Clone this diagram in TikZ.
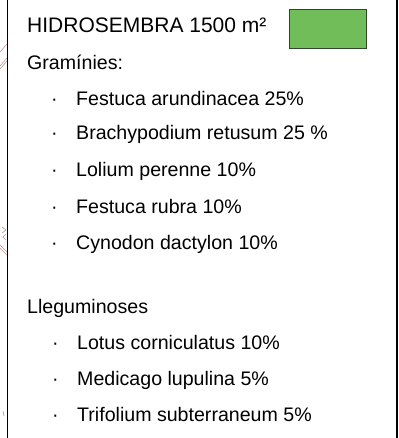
\documentclass[tikz,border=0pt]{standalone}
\usepackage{fontspec}
\setmainfont{Liberation Sans}
\usepackage{tikz}
\usetikzlibrary{positioning}
\definecolor{grass}{RGB}{112,189,90}
\definecolor{swatchline}{RGB}{45,70,45}
\definecolor{mapline}{RGB}{190,150,140}

\begin{document}
\begin{tikzpicture}[x=1pt, y=-1pt,
  every node/.style={inner sep=0pt, anchor=base west},
  head/.style={font=\fontsize{21}{21}\selectfont},
  item/.style={font=\fontsize{19.6}{20}\selectfont}]
% margins
\useasboundingbox (0,0) rectangle (398,438);
\clip (0,0) rectangle (398,438);
% map behind the legend
\draw[mapline, line width=0.6pt] (0,52) -- (7,44);
\draw[mapline, line width=0.6pt] (0,66) -- (7,58) (0,69) -- (7,61);
\draw[mapline, line width=0.6pt] (2,227) -- (6,230) -- (2,233);
\draw[mapline, line width=0.6pt] (6,234) -- (3,237) -- (6,240);
\draw[mapline, line width=0.6pt] (0,245) -- (7,252) (0,248) -- (7,255);
\draw[mapline, line width=0.6pt] (3,411) -- (4,416);
% frame
\fill[white] (7.5,-5) rectangle (397,445);
\draw[line width=1.3pt] (7.5,-5) rectangle (397,445);
% swatch
\node (swatch) [draw=swatchline, fill=grass, line width=0.8pt, minimum width=77pt, minimum height=39pt, anchor=north west] at (289,9) {};
% title
\node (title) [head] at (27,33) {HIDROSEMBRA 1500 m²};
% grasses
\node (gram) [item] at (27,70) {Gramínies:};
\foreach \y/\txt [count=\i] in {106/Festuca arundinacea 25\%, 140/Brachypodium retusum 25 \%, 177/Lolium perenne 10\%, 213/Festuca rubra 10\%, 249/Cynodon dactylon 10\%}{
  \node (gdot\i) [item] at (51,\y) {·};
  \node (g\i) [item] at (76,\y) {\txt};
}
% legumes
\node (lleg) [item] at (27,313) {Lleguminoses};
\foreach \y/\txt [count=\i] in {349/Lotus corniculatus 10\%, 385/Medicago lupulina 5\%, 421/Trifolium subterraneum 5\%}{
  \node (ldot\i) [item] at (52,\y) {·};
  \node (l\i) [item] at (77,\y) {\txt};
}
\end{tikzpicture}
\end{document}
